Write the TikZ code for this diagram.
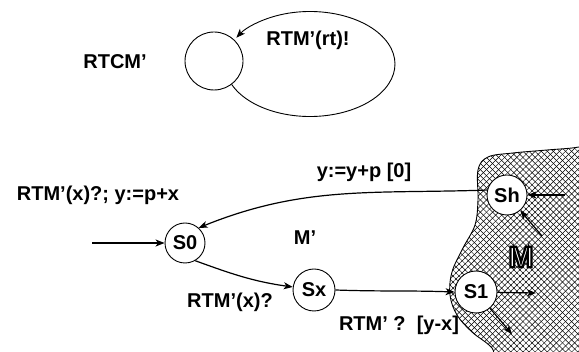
\documentclass[tikz,border=0pt]{standalone}
\usepackage{fontspec}
\setmainfont{Liberation Sans}
\usetikzlibrary{shapes,arrows.meta,patterns.meta}
\tikzstyle{state} = [circle, draw, fill=white, line width=0.9pt,
    minimum size=40pt, inner sep=0pt, font=\bfseries\fontsize{20}{24}\selectfont]
\tikzstyle{line} = [draw, line width=1.2pt, -{Stealth[length=9pt, width=7pt, inset=2.5pt]}]
\tikzstyle{lbl} = [font=\bfseries\fontsize{20}{24}\selectfont, inner sep=0pt]
% outlined letters (white inside, black rim)
\newcommand{\hollowtext}[1]{\special{pdf:code 2 Tr 2.2 w 1 1 1 rg 0 0 0 RG}#1\special{pdf:code 0 Tr}}

\begin{document}
\begin{tikzpicture}[x=1pt, y=1pt]
    \useasboundingbox (0,0) rectangle (579,-352);

    % upper machine
    \node[lbl] (rtcm) at (115,-62) {RTCM'};
    \node[state, minimum size=58pt] (top) at (214,-61) {};
    \node[lbl] (rt) at (308,-40) {RTM'(rt)!};
    \path[line, line width=0.9pt] (top.-53) arc[start angle=-157, end angle=150, x radius=85pt, y radius=52.5pt];

    % the region M
    \begin{scope}
        \clip (0,0) rectangle (579,-352);
        \path[pattern={Lines[angle=45, distance=4.3pt, line width=0.5pt]}]
            plot[smooth cycle, tension=0.6] coordinates {(579,-147) (547,-150) (513,-153) (488,-157)
            (478,-170) (478,-200) (475,-225) (463,-248) (452,-272) (450,-295) (457,-315)
            (472,-332) (492,-348) (505,-370) (600,-370) (600,-140)};
        \draw[line width=0.9pt, pattern={Lines[angle=-45, distance=4.3pt, line width=0.5pt]}]
            plot[smooth cycle, tension=0.6] coordinates {(579,-147) (547,-150) (513,-153) (488,-157)
            (478,-170) (478,-200) (475,-225) (463,-248) (452,-272) (450,-295) (457,-315)
            (472,-332) (492,-348) (505,-370) (600,-370) (600,-140)};
    \end{scope}
    \node[lbl, font=\bfseries\fontsize{30}{34}\selectfont] (m) at (521,-257) {\hollowtext{M}};

    % lower machine
    \node[state] (S0) at (185,-243) {S0};
    \node[state, minimum size=42pt] (Sx) at (314,-290) {Sx};
    \node[state, minimum size=42pt] (S1) at (476,-292) {S1};
    \node[state] (Sh) at (507,-195) {Sh};
    \coordinate (in) at (92,-243);
    \coordinate (h1) at (565,-195);
    \coordinate (h2) at (542,-236);
    \coordinate (o1) at (536,-293);
    \coordinate (o2) at (512,-334);

    \node[lbl] (l1) at (98,-195) {RTM'(x)?; y:=p+x};
    \node[lbl] (l2) at (305,-238) {M'};
    \node[lbl] (l3) at (230,-302) {RTM'(x)?};
    \node[lbl] (l4) at (399,-325) {RTM' ?~~[y-x]};
    \node[lbl] (l5) at (364,-172) {y:=y+p [0]};

    \path[line] (in) -- (S0);
    \path[line] (S0.-60) to[out=-20, in=172] (Sx);
    \path[line] (Sx.east) to[out=-2, in=178] (S1.west);
    \path[line] (Sh.166) to[out=182, in=22] (S0.48);
    \path[line] (h1) -- (Sh);
    \path[line] (h2) -- (Sh);
    \path[line] (S1) -- (o1);
    \path[line] (S1) -- (o2);
\end{tikzpicture}
\end{document}
